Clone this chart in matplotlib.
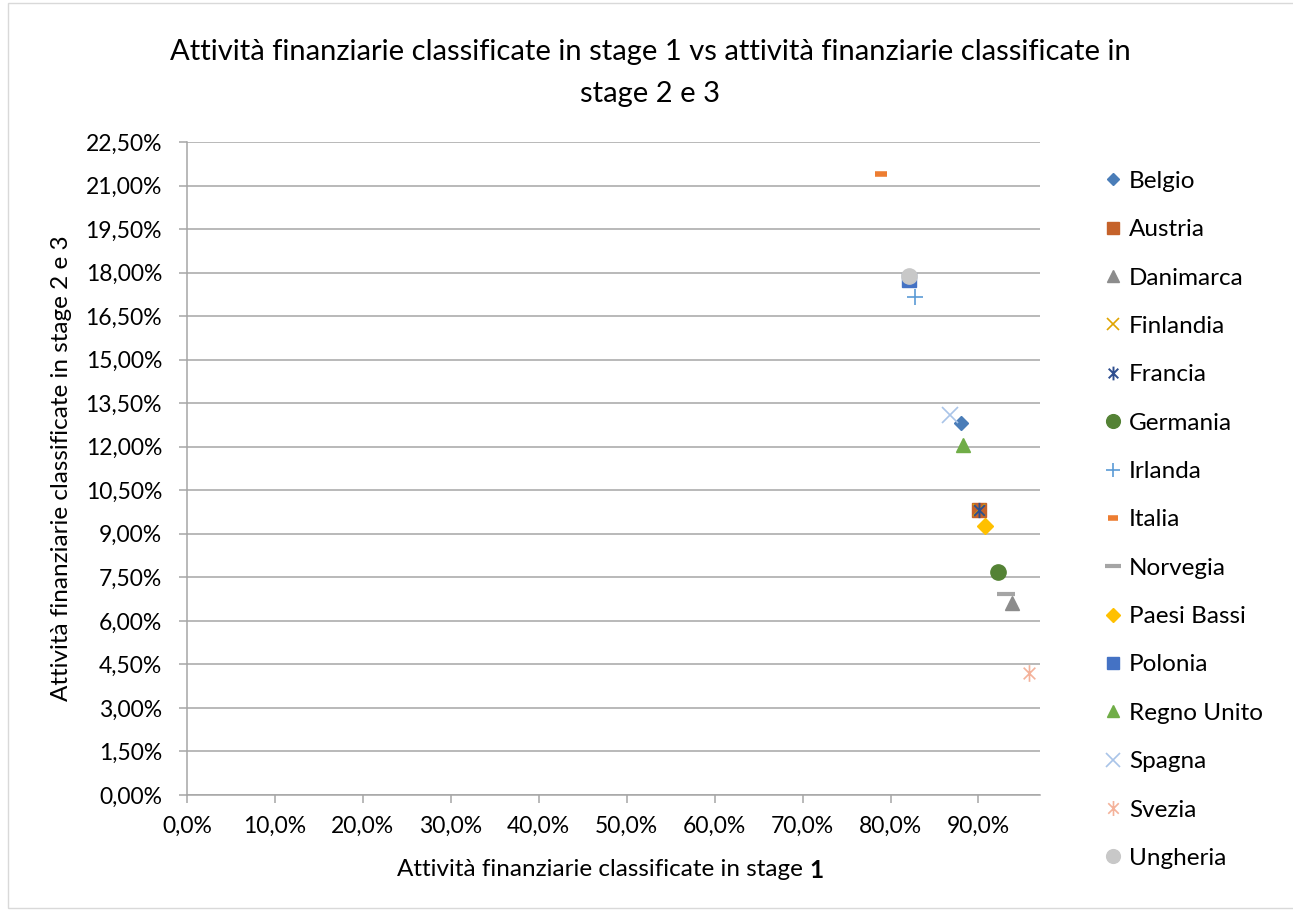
import matplotlib
matplotlib.use("Agg")
import matplotlib.pyplot as plt
from matplotlib.path import Path
from matplotlib.patches import Rectangle
from matplotlib.ticker import FuncFormatter, MultipleLocator

plt.rcParams['font.family'] = ['Lato', 'DejaVu Sans']

countries = ["Belgio", "Austria", "Danimarca", "Finlandia", "Francia", "Germania",
             "Irlanda", "Italia", "Norvegia", "Paesi Bassi", "Polonia",
             "Regno Unito", "Spagna", "Svezia", "Ungheria"]
stage1 = [0.880, 0.901, 0.938, 0.901, 0.901, 0.922, 0.828, 0.789, 0.931,
          0.907, 0.8205, 0.883, 0.868, 0.957, 0.8205]
stage23 = [0.1282, 0.0982, 0.0662, 0.0982, 0.0982, 0.0768, 0.1716, 0.2140,
           0.0693, 0.0927, 0.1773, 0.1206, 0.1309, 0.0420, 0.1788]

# asterisk: an X crossed by a vertical stroke
star = Path([(-0.7, -0.7), (0.7, 0.7), (-0.7, 0.7), (0.7, -0.7), (0, -1), (0, 1)],
            [Path.MOVETO, Path.LINETO, Path.MOVETO, Path.LINETO, Path.MOVETO, Path.LINETO])

styles = {
    "Belgio":      dict(marker="D", color="#4A7DB8", ms=7),
    "Austria":     dict(marker="s", color="#C5622A", ms=10),
    "Danimarca":   dict(marker="^", color="#8C8C8C", ms=10),
    "Finlandia":   dict(marker="x", color="#E0A400", ms=9, mew=1.2),
    "Francia":     dict(marker=star, color="#2E4E8F", ms=11, mew=1.4),
    "Germania":    dict(marker="o", color="#548235", ms=11),
    "Irlanda":     dict(marker="+", color="#5B9BD5", ms=11, mew=1.2),
    "Italia":      dict(marker="_", color="#ED7D31", ms=8, mew=4),
    "Norvegia":    dict(marker="_", color="#A5A5A5", ms=13, mew=3),
    "Paesi Bassi": dict(marker="D", color="#FFC000", ms=8),
    "Polonia":     dict(marker="s", color="#4472C4", ms=10),
    "Regno Unito": dict(marker="^", color="#70AD47", ms=10),
    "Spagna":      dict(marker="x", color="#A9C4E8", ms=11, mew=1.2),
    "Svezia":      dict(marker=star, color="#F4B29A", ms=12, mew=1.2),
    "Ungheria":    dict(marker="o", color="#C8C8C8", ms=11),
}

fig = plt.figure(figsize=(12.93, 9.11), dpi=100)
ax = fig.add_axes([187/1293, 1-795/911, (1040-187)/1293, (795-142)/911])

for name, x, y in zip(countries, stage1, stage23):
    st = styles[name]
    ax.plot([x], [y], linestyle="none", marker=st["marker"], color=st["color"],
            markersize=st["ms"], markeredgewidth=st.get("mew", 1.0), label=name)

ax.set_xlim(0, 0.97)
ax.set_ylim(0, 0.225)
ax.xaxis.set_major_locator(MultipleLocator(0.10))
ax.yaxis.set_major_locator(MultipleLocator(0.015))
ax.xaxis.set_major_formatter(FuncFormatter(lambda v, p: f"{v*100:.1f}%".replace(".", ",")))
ax.yaxis.set_major_formatter(FuncFormatter(lambda v, p: f"{v*100:.2f}%".replace(".", ",")))
ax.grid(axis="y", color="#A6A6A6", linewidth=1.1)
ax.set_axisbelow(True)
for s in ["top", "right"]:
    ax.spines[s].set_visible(False)
for s in ["left", "bottom"]:
    ax.spines[s].set_color("#A6A6A6")
    ax.spines[s].set_linewidth(1.1)
ax.tick_params(axis="both", colors="#A6A6A6", labelcolor="#000000", labelsize=16.5,
               length=6, width=1.1)
ax.tick_params(axis="x", pad=9)
ax.tick_params(axis="y", pad=12)

fig.text(650/1293, 1-52/911, "Attività finanziarie classificate in stage 1 vs attività finanziarie classificate in",
         ha="center", va="center", fontsize=21)
fig.text(650/1293, 1-94/911, "stage 2 e 3", ha="center", va="center", fontsize=21)

fig.text(62/1293, 1-468/911, "Attività finanziarie classificate in stage 2 e 3",
         rotation=90, ha="center", va="center", fontsize=17.5)

# x-axis title with a bold stage number
xt = fig.text(603/1293, 1-870/911, "Attività finanziarie classificate in stage ",
              ha="center", va="center", fontsize=17.5)
fig.canvas.draw()
bb = xt.get_window_extent()
fig.text(bb.x1/fig.bbox.width, 1-870/911, "1", ha="left", va="center",
         fontsize=17.5, fontweight="bold")

leg = ax.legend(loc="upper left", bbox_to_anchor=(1079/1293, 1-149/911),
                bbox_transform=fig.transFigure, frameon=False, fontsize=17.5,
                labelspacing=1.125, handletextpad=0.15, handlelength=1.0,
                markerscale=0.9)

fig.patches.append(Rectangle((8/1293, 3/911), 1.0, 905/911, transform=fig.transFigure,
                             fill=False, edgecolor="#D9D9D9", linewidth=1.0))

fig.savefig("out.png", dpi=100, facecolor="white")
